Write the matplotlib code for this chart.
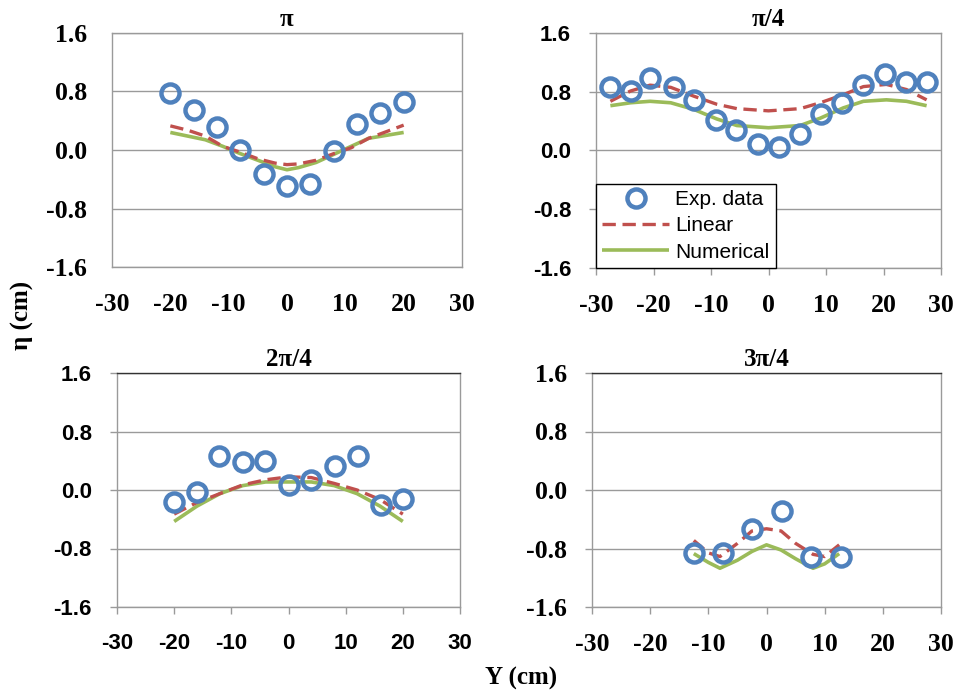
import matplotlib
matplotlib.use("Agg")
import matplotlib.pyplot as plt

plt.rcParams["axes.unicode_minus"] = False

# --- phase pi ---
pos_pi = [-20, -16, -12, -8, -4, 0, 4, 8, 12, 16, 20]
exp_pi = [0.78, 0.55, 0.31, 0.0, -0.33, -0.49, -0.46, -0.02, 0.35, 0.51, 0.65]
cx_pi = [-20, -17, -14, -11, -8, -5, -2, 0, 2, 5, 8, 11, 14, 17, 20]
lin_pi = [0.33, 0.27, 0.19, 0.05, -0.03, -0.12, -0.18, -0.20, -0.19, -0.14, -0.05, 0.03, 0.16, 0.25, 0.34]
num_pi = [0.24, 0.19, 0.14, 0.05, -0.05, -0.14, -0.23, -0.27, -0.24, -0.17, -0.06, 0.05, 0.16, 0.20, 0.24]

# --- phase pi/4 ---
pos_q1 = [-27.6, -23.9, -20.6, -16.5, -13.0, -9.2, -5.7, -1.8, 1.8, 5.4, 9.1, 12.7, 16.4, 20.2, 23.9, 27.5]
exp_q1 = [0.87, 0.81, 0.99, 0.86, 0.69, 0.41, 0.28, 0.09, 0.05, 0.23, 0.50, 0.64, 0.89, 1.04, 0.93, 0.93]
cx_q1 = [-27.5, -24, -20.6, -17, -13, -9, -5.5, 0, 5.5, 9, 13, 16.5, 20.5, 24, 27.5]
lin_q1 = [0.67, 0.81, 0.89, 0.86, 0.74, 0.63, 0.57, 0.54, 0.57, 0.65, 0.76, 0.87, 0.90, 0.83, 0.69]
num_q1 = [0.61, 0.65, 0.67, 0.65, 0.56, 0.43, 0.34, 0.31, 0.34, 0.44, 0.58, 0.67, 0.69, 0.67, 0.61]

# --- phase 2pi/4 ---
pos_q2 = [-20, -16, -12.2, -8, -4.1, 0, 4, 8.1, 12.1, 16.1, 20.1]
exp_q2 = [-0.16, -0.03, 0.47, 0.38, 0.39, 0.07, 0.14, 0.33, 0.47, -0.20, -0.12]
cx_q2 = [-20, -16, -12, -8, -4, 0, 4, 8, 12, 16, 20]
lin_q2 = [-0.33, -0.17, -0.05, 0.07, 0.14, 0.18, 0.17, 0.09, 0.0, -0.13, -0.33]
num_q2 = [-0.43, -0.22, -0.05, 0.06, 0.11, 0.11, 0.11, 0.06, -0.05, -0.22, -0.43]

# --- phase 3pi/4 ---
pos_q3 = [-12.5, -7.5, -2.5, 2.6, 7.6, 12.8]
exp_q3 = [-0.86, -0.86, -0.53, -0.29, -0.91, -0.91]
cx_q3 = [-12.5, -10, -8, -5, -2.5, 0, 2.5, 5, 8, 10, 12.5]
lin_q3 = [-0.69, -0.86, -0.91, -0.73, -0.56, -0.53, -0.56, -0.73, -0.88, -0.91, -0.75]
num_q3 = [-0.87, -0.99, -1.07, -0.96, -0.84, -0.75, -0.82, -0.94, -1.07, -1.01, -0.87]

yticks = [-1.6, -0.8, 0.0, 0.8, 1.6]
xticks = [-30, -20, -10, 0, 10, 20, 30]

SERIF = "Liberation Serif"
SANS = "Liberation Sans"
BLUE = "#4f81bd"
RED = "#c0504d"
GREEN = "#9bbb59"
GRID = "#9a9a9a"

W, H = 956, 696
fig = plt.figure(figsize=(W / 100, H / 100), dpi=100)

# pixel boxes (left, top, right, bottom), tick font (y, x), draw tick marks
panels = [
    ("\u03c0", (112, 33, 462, 267), (SERIF, SERIF), False,
     pos_pi, exp_pi, cx_pi, lin_pi, num_pi),
    ("\u03c0/4", (596, 33, 941, 268), (SANS, SERIF), True,
     pos_q1, exp_q1, cx_q1, lin_q1, num_q1),
    ("2\u03c0/4", (117, 373, 460, 607), (SANS, SANS), True,
     pos_q2, exp_q2, cx_q2, lin_q2, num_q2),
    ("3\u03c0/4", (592, 373, 941, 607), (SERIF, SERIF), True,
     pos_q3, exp_q3, cx_q3, lin_q3, num_q3),
]
fsize = {SERIF: 18.5, SANS: 16}

axes = []
for i, (title, box, fonts, ticks, px, pe, cx, cl, cn) in enumerate(panels):
    l, t, r, b = box
    ax = fig.add_axes([l / W, 1 - b / H, (r - l) / W, (b - t) / H])
    ax.plot(cx, cn, color=GREEN, lw=2.6, solid_capstyle="butt", label="Numerical", zorder=2)
    ax.plot(cx, cl, color=RED, lw=2.4, dashes=(4, 2), label="Linear", zorder=3)
    ax.plot(px, pe, "o", ms=13, mfc="none", mec=BLUE, mew=3.2, label="Exp. data", zorder=4)

    ax.set_xlim(-30, 30)
    ax.set_ylim(-1.6, 1.6)
    ax.set_xticks(xticks)
    ax.set_yticks(yticks)
    ax.set_yticklabels(["%.1f" % v for v in yticks])
    ax.grid(axis="y", color=GRID, lw=1.0)
    ax.set_axisbelow(True)
    for s in ax.spines.values():
        s.set_color(GRID)
        s.set_linewidth(1.0)
    if i >= 2:
        ax.spines["top"].set_color("#333333")

    tl = 5 if ticks else 0
    ax.tick_params(axis="y", length=tl, width=1, color=GRID, pad=18 - tl)
    ax.tick_params(axis="x", length=tl, width=1, color=GRID, pad=19 - tl)
    for lab in ax.get_yticklabels():
        lab.set_fontfamily(fonts[0])
        lab.set_fontweight("bold")
        lab.set_fontsize(fsize[fonts[0]])
    for lab in ax.get_xticklabels():
        lab.set_fontfamily(fonts[1])
        lab.set_fontweight("bold")
        lab.set_fontsize(fsize[fonts[1]])

    ax.set_title(title, family=SERIF, weight="bold", fontsize=18, pad=5)
    axes.append(ax)

# legend only in the pi/4 panel, experiment first
h, lbl = axes[1].get_legend_handles_labels()
order = [2, 1, 0]
leg = axes[1].legend([h[k] for k in order], [lbl[k] for k in order],
                     loc="lower left", bbox_to_anchor=(0, 0), borderaxespad=0,
                     prop={"family": SANS, "size": 15}, numpoints=1,
                     handlelength=3.2, handletextpad=0.3, labelspacing=0.35,
                     borderpad=0.3, fancybox=False, framealpha=1, edgecolor="black")
leg.get_frame().set_linewidth(1.0)

fig.text(22 / W, 1 - 315 / H, "\u03b7 (cm)", rotation=90, ha="center", va="center",
         family=SERIF, weight="bold", fontsize=18)
fig.text(521 / W, 1 - 678 / H, "Y (cm)", ha="center", va="center",
         family=SERIF, weight="bold", fontsize=18)

fig.savefig("out.png", dpi=100, facecolor="white")
